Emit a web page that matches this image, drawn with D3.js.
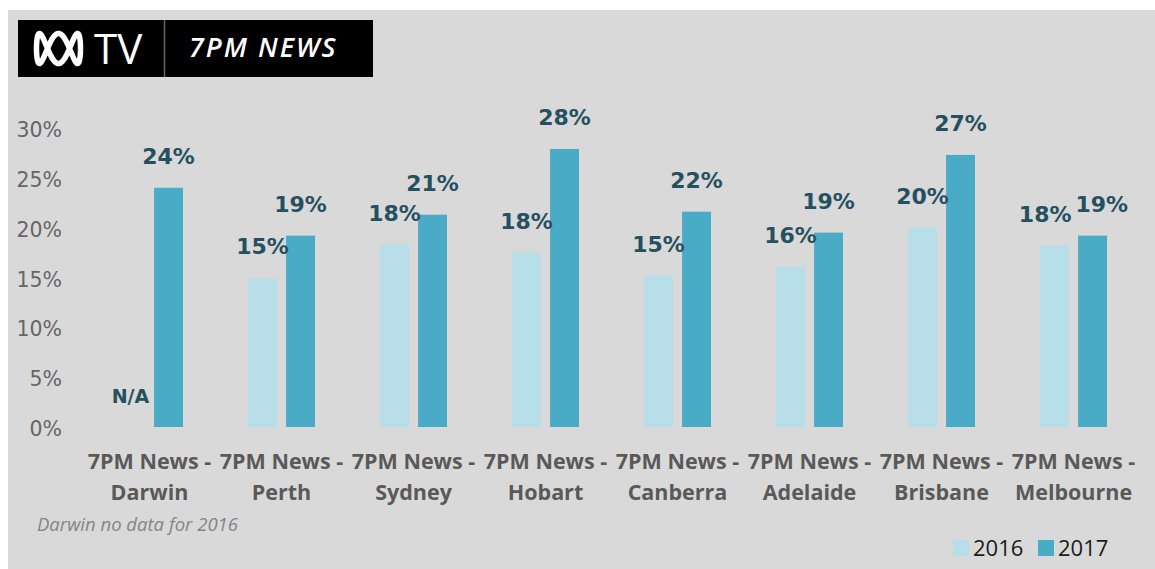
<!DOCTYPE html>
<html>
<head>
  <meta charset="utf-8">
  <style>
    body { margin: 0; background: #ffffff; }
    svg { display: block; }
  </style>
</head>
<body>
  <script src="https://d3js.org/d3.v7.min.js"></script>
  <svg id="chart"></svg>
  <script>
    // data
    var cities = ["Darwin", "Perth", "Sydney", "Hobart", "Canberra", "Adelaide", "Brisbane", "Melbourne"];
    var years = ["2016", "2017"];
    var share2016 = [null, 14.9, 18.3, 17.5, 15.2, 16.1, 20.0, 18.2];
    var share2017 = [24.0, 19.2, 21.3, 27.9, 21.6, 19.5, 27.3, 19.2];
    var label2016 = [null, "15%", "18%", "18%", "15%", "16%", "20%", "18%"];
    var label2017 = ["24%", "19%", "21%", "28%", "22%", "19%", "27%", "19%"];
    var yTicks = [0, 5, 10, 15, 20, 25, 30];
    var footnote = "Darwin no data for 2016";

    var width = 1155, height = 569;
    var colors = { "2016": "#b8dee9", "2017": "#4aabc7" };
    var labelColor = "#25505f";

    var svg = d3.select("#chart").attr("width", width).attr("height", height);

    // panel background
    svg.append("rect")
      .attr("x", 8).attr("y", 10)
      .attr("width", width - 8).attr("height", height - 10)
      .attr("fill", "#d9d9d9");

    // header box
    var head = svg.append("g");
    head.append("rect")
      .attr("x", 18).attr("y", 20).attr("width", 355).attr("height", 57)
      .attr("fill", "#000");
    head.append("line")
      .attr("x1", 164.5).attr("x2", 164.5).attr("y1", 20).attr("y2", 77)
      .attr("stroke", "#666").attr("stroke-width", 1.5);

    // abc lissajous mark
    var liss = d3.range(0, 2 * Math.PI + 0.01, 0.02).map(function(t) {
      return [58.5 + 22 * Math.cos(t), 48.5 + 15 * Math.sin(3 * t)];
    });
    head.append("path")
      .attr("d", d3.line().curve(d3.curveCardinalClosed)(liss))
      .attr("fill", "none")
      .attr("stroke", "#fff")
      .attr("stroke-width", 5.5);

    head.append("text")
      .attr("x", 94).attr("y", 64)
      .attr("font-family", "Open Sans")
      .attr("font-size", 42)
      .attr("fill", "#fff")
      .text("TV");
    head.append("text")
      .attr("x", 189).attr("y", 57)
      .attr("font-family", "Open Sans")
      .attr("font-weight", 600)
      .attr("font-style", "italic")
      .attr("font-size", 27)
      .attr("letter-spacing", 2)
      .attr("fill", "#fff")
      .text("7PM NEWS");

    // scales
    var x = d3.scaleBand().domain(cities).range([83.5, 1139.5]).padding(0);
    var xSub = d3.scaleBand().domain(years)
      .range([x.bandwidth() / 2 - 33.5, x.bandwidth() / 2 + 33.5])
      .paddingInner(0.24);
    var y = d3.scaleLinear().domain([0, 30]).range([427, 128]);

    // y axis labels
    var yAxis = d3.axisLeft(y).tickValues(yTicks)
      .tickFormat(function(d) { return d + "%"; })
      .tickSize(0).tickPadding(0);
    var ya = svg.append("g").attr("transform", "translate(62,2)").call(yAxis);
    ya.select(".domain").remove();
    ya.selectAll("text")
      .attr("font-family", "DejaVu Sans")
      .attr("font-size", 20.5)
      .attr("fill", "#666");

    // bars
    var rows = cities.map(function(c, i) {
      return { city: c, values: [
        { year: "2016", v: share2016[i], label: label2016[i] },
        { year: "2017", v: share2017[i], label: label2017[i] }
      ] };
    });

    var groups = svg.selectAll(".grp").data(rows).enter().append("g")
      .attr("class", "grp")
      .attr("transform", function(d) { return "translate(" + x(d.city) + ",0)"; });

    groups.selectAll("rect")
      .data(function(d) { return d.values.filter(function(v) { return v.v != null; }); })
      .enter().append("rect")
      .attr("x", function(d) { return xSub(d.year); })
      .attr("width", xSub.bandwidth())
      .attr("y", function(d) { return y(d.v); })
      .attr("height", function(d) { return y(0) - y(d.v); })
      .attr("fill", function(d) { return colors[d.year]; });

    // value labels
    groups.each(function(d) {
      var g = d3.select(this);
      var texts = d.values.map(function(v) {
        return g.append("text")
          .attr("x", xSub(v.year) + xSub.bandwidth() / 2)
          .attr("y", y(v.v == null ? 0 : v.v) - 24)
          .attr("text-anchor", "middle")
          .attr("font-family", "DejaVu Sans")
          .attr("font-weight", "bold")
          .attr("font-size", v.v == null ? 19 : 22)
          .attr("fill", labelColor)
          .text(v.label == null ? "N/A" : v.label);
      });
      // nudge the labels apart if they collide
      var a = texts[0].node().getBBox(), b = texts[1].node().getBBox();
      var overlapX = a.x + a.width - b.x;
      var overlapY = Math.min(a.y + a.height, b.y + b.height) - Math.max(a.y, b.y);
      if (overlapX > 0 && overlapY > 0) {
        texts[0].attr("x", +texts[0].attr("x") - overlapX / 2 - 2);
        texts[1].attr("x", +texts[1].attr("x") + overlapX / 2 + 2);
      }
    });

    // category labels
    var xl = svg.selectAll(".xl").data(cities).enter().append("text")
      .attr("class", "xl")
      .attr("text-anchor", "middle")
      .attr("font-family", "Open Sans")
      .attr("font-weight", "bold")
      .attr("font-size", 21.5)
      .attr("fill", "#595959");
    xl.append("tspan")
      .attr("x", function(d) { return x(d) + x.bandwidth() / 2; })
      .attr("y", 469)
      .text("7PM News -");
    xl.append("tspan")
      .attr("x", function(d) { return x(d) + x.bandwidth() / 2; })
      .attr("y", 500)
      .text(function(d) { return d; });

    // footnote
    svg.append("text")
      .attr("x", 37).attr("y", 531)
      .attr("font-family", "Open Sans")
      .attr("font-style", "italic")
      .attr("font-size", 18.5)
      .attr("fill", "#858585")
      .text(footnote);

    // legend
    var leg = svg.selectAll(".leg").data(years).enter().append("g")
      .attr("class", "leg")
      .attr("transform", function(d, i) { return "translate(" + (953 + i * 85) + ",540)"; });
    leg.append("rect")
      .attr("width", 16).attr("height", 16)
      .attr("fill", function(d) { return colors[d]; });
    leg.append("text")
      .attr("x", 20).attr("y", 16)
      .attr("font-family", "Open Sans")
      .attr("font-size", 22)
      .attr("fill", "#1a1a1a")
      .text(function(d) { return d; });
  </script>
</body>
</html>
